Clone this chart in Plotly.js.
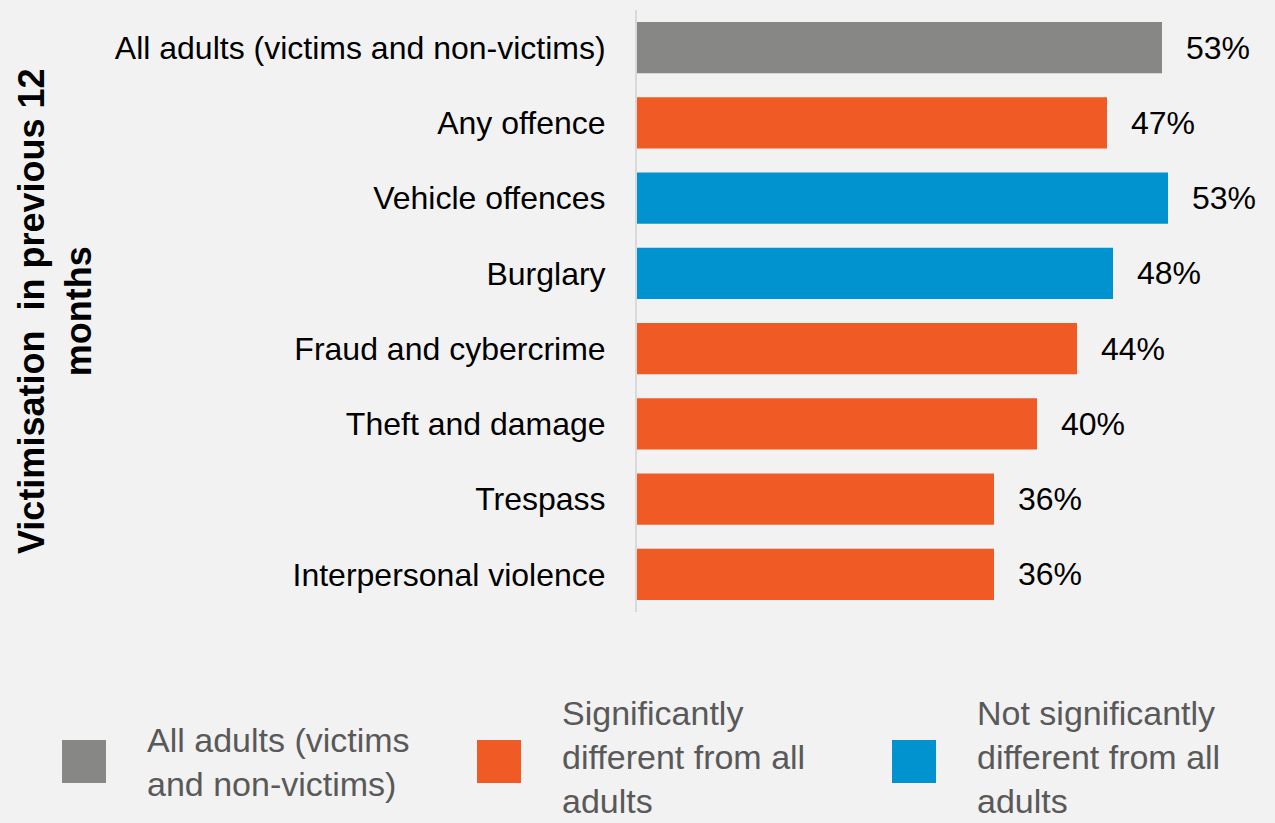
<!DOCTYPE html>
<html>
<head>
<meta charset="utf-8">
<script src="https://cdn.plot.ly/plotly-3.0.1.min.js"></script>
<style>html,body{margin:0;padding:0;background:#f2f2f2;}#chart{width:1275px;height:823px;}</style>
</head>
<body>
<div id="chart"></div>
<script>
const categories = [
  "All adults (victims and non-victims)",
  "Any offence",
  "Vehicle offences",
  "Burglary",
  "Fraud and cybercrime",
  "Theft and damage",
  "Trespass",
  "Interpersonal violence"
];
const values = [52.5, 47.0, 53.1, 47.6, 44.0, 40.0, 35.7, 35.7];
const valueLabels = ["53%", "47%", "53%", "48%", "44%", "40%", "36%", "36%"];
const groups = ["all", "sig", "notsig", "notsig", "sig", "sig", "sig", "sig"];
const groupNames = {
  all: "All adults (victims<br>and non-victims)",
  sig: "Significantly<br>different from all<br>adults",
  notsig: "Not significantly<br>different from all<br>adults"
};
const groupOrder = ["all", "sig", "notsig"];
const groupColors = {all: "#878785", sig: "#f05a24", notsig: "#0093d0"};

const W = 1275, H = 823;
const margin = {l: 637, r: 0, t: 10, b: 211};
const pw = W - margin.l - margin.r, ph = H - margin.t - margin.b;
const px = x => (x - margin.l) / pw;
const py = y => (H - margin.b - y) / ph;
const FONT = "Liberation Sans, Arial, sans-serif";

const trace = {
  type: "bar",
  orientation: "h",
  x: values,
  y: categories,
  marker: {color: groups.map(g => groupColors[g]), line: {width: 0}},
  hoverinfo: "skip",
  showlegend: false
};

const annotations = categories.map((c, i) => ({
  x: values[i], y: c, xref: "x", yref: "y",
  text: valueLabels[i], showarrow: false,
  xanchor: "left", yanchor: "middle", xshift: 22,
  font: {family: FONT, size: 32, color: "#000000"}
}));

annotations.push({
  xref: "paper", yref: "paper", x: px(55), y: py(311),
  text: "<b>Victimisation  in previous 12<br>months</b>",
  textangle: -90, showarrow: false, xanchor: "center", yanchor: "middle",
  align: "center",
  font: {family: FONT, size: 36, color: "#000000"}
});

const legendX = [62, 477, 892];
const shapes = [];
groupOrder.forEach((g, k) => {
  const x0 = legendX[k];
  shapes.push({
    type: "rect", xref: "paper", yref: "paper",
    x0: px(x0), x1: px(x0 + 44), y0: py(740), y1: py(783),
    fillcolor: groupColors[g], line: {width: 0}
  });
  annotations.push({
    xref: "paper", yref: "paper", x: px(x0 + 83), y: py(k === 0 ? 762 : 757),
    text: groupNames[g], showarrow: false, xanchor: "left", yanchor: "middle",
    align: "left",
    font: {family: FONT, size: 34, color: "#595959"}
  });
});

const layout = {
  width: W, height: H,
  margin: margin,
  paper_bgcolor: "#f2f2f2",
  plot_bgcolor: "#f2f2f2",
  bargap: 0.32,
  showlegend: false,
  xaxis: {
    range: [0, 63.8], showgrid: false, zeroline: false,
    showticklabels: false, showline: false, fixedrange: true
  },
  yaxis: {
    autorange: "reversed", showgrid: false, zeroline: false,
    showline: true, linecolor: "#d9d9d9", linewidth: 2,
    ticks: "", ticklabelstandoff: 23,
    tickfont: {family: FONT, size: 32, color: "#000000"}
  },
  annotations: annotations,
  shapes: shapes
};

Plotly.newPlot("chart", [trace], layout, {displayModeBar: false, staticPlot: true});
</script>
</body>
</html>
